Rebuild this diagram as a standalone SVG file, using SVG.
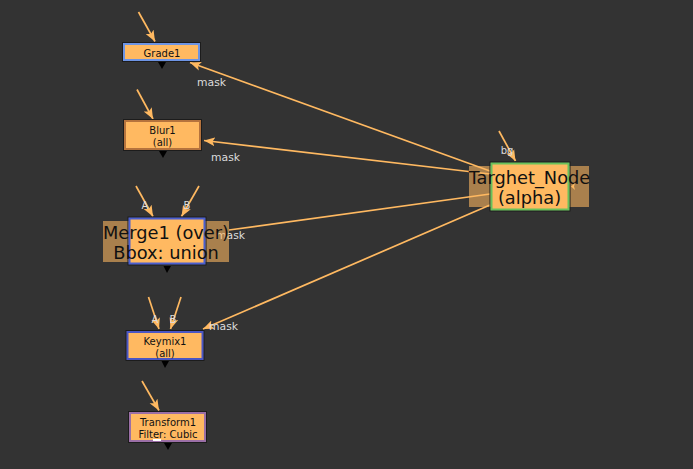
<svg xmlns="http://www.w3.org/2000/svg" width="693" height="469" viewBox="0 0 693 469">
<style>
.bg{fill:#333333}
.wire{stroke:#ffb961;stroke-width:1.7;fill:none;marker-end:url(#ah)}
.fill{fill:#ffb961}
.out{fill:none;stroke:#1c1c1c;stroke-width:1}
.t{font-family:"DejaVu Sans",sans-serif;fill:#111111;text-anchor:middle}
.s{font-size:10px}
.b{font-size:17.8px}
.lab{font-family:"DejaVu Sans",sans-serif;fill:#dcdcdc;font-size:10.8px}
.pin{font-family:"DejaVu Sans",sans-serif;fill:#dcdcdc;font-size:10px;text-anchor:middle}
.hl{fill:#ffb961;fill-opacity:0.58}
.tri{fill:#000}
</style>
<defs>
<marker id="ah" markerUnits="userSpaceOnUse" markerWidth="12" markerHeight="10" viewBox="0 0 12 10" refX="11" refY="5" orient="auto">
<path d="M0,0.5 L11,5 L0,9.5 L2.5,5 Z" fill="#ffb961"/>
</marker>
</defs>
<rect class="bg" x="0" y="0" width="693" height="469"/>

<g id="connectors">
<line class="wire" x1="138.5" y1="12" x2="155" y2="41.5"/>
<line class="wire" x1="137" y1="89.5" x2="153" y2="119"/>
<line class="wire" x1="136" y1="186" x2="153" y2="216.5"/>
<line class="wire" x1="199" y1="186" x2="181.5" y2="216.5"/>
<line class="wire" x1="148.5" y1="297" x2="159" y2="329"/>
<line class="wire" x1="181" y1="297" x2="170.5" y2="329"/>
<line class="wire" x1="142" y1="381" x2="159" y2="410.5"/>
<line class="wire" x1="499" y1="131" x2="515.5" y2="161"/>
<line class="wire" x1="490" y1="171" x2="190" y2="62.5"/>
<line class="wire" x1="490" y1="174" x2="204" y2="140.5"/>
<line x1="490" y1="194" x2="229" y2="230" stroke="#ffb961" stroke-width="1.7"/>
<line class="wire" x1="490" y1="205" x2="203" y2="329"/>
<text class="lab" x="197" y="85.5">mask</text>
<text class="lab" x="211" y="160.5">mask</text>
<text class="lab" x="216" y="238.5">mask</text>
<text class="lab" x="209" y="329.5">mask</text>
<text class="pin" x="145" y="209">A</text>
<text class="pin" x="187" y="209">B</text>
<text class="pin" x="155" y="322.5">A</text>
<text class="pin" x="173" y="322.5">B</text>
<text class="pin" x="507" y="153.5">bg</text>
</g>

<g id="Grade1">
<rect class="out" x="122.5" y="42.5" width="78" height="19"/>
<rect class="fill" x="124" y="44" width="75" height="16" stroke="#6d94e4" stroke-width="2"/>
<text class="t s" x="162" y="57">Grade1</text>
<polygon class="tri" points="158,62 166,62 162,69"/>
</g>

<g id="Blur1">
<rect class="out" x="123.5" y="119.5" width="78" height="31"/>
<rect class="fill" x="125" y="121" width="75" height="28" stroke="#b5733d" stroke-width="2"/>
<text class="t s" x="162.5" y="134">Blur1</text>
<text class="t s" x="162.5" y="145.5">(all)</text>
<polygon class="tri" points="159,151 167,151 163,158"/>
</g>

<g id="Merge1">
<rect class="hl" x="103" y="221" width="126" height="41"/>
<rect class="out" x="128" y="217" width="78" height="48"/>
<rect class="fill" x="129.5" y="218.5" width="75" height="45" stroke="#4b5fd0" stroke-width="2"/>
<text class="t b" x="166" y="238.5">Merge1 (over)</text>
<text class="t b" x="166" y="258.5">Bbox: union</text>
<polygon class="tri" points="163.5,266 171,266 167,273"/>
</g>

<g id="Keymix1">
<rect class="out" x="126" y="330.5" width="78" height="30"/>
<rect class="fill" x="127.5" y="332" width="75" height="27" stroke="#4a56c4" stroke-width="2"/>
<text class="t s" x="165" y="345">Keymix1</text>
<text class="t s" x="165" y="356.5">(all)</text>
<polygon class="tri" points="161.5,361 169,361 165,368"/>
</g>

<g id="Transform1">
<rect class="out" x="128.5" y="411.5" width="78" height="31"/>
<rect class="fill" x="130" y="413" width="75" height="28" stroke="#9b6fa6" stroke-width="2"/>
<text class="t s" x="168" y="426">Transform1</text>
<text class="t s" x="168" y="438">Filter: Cubic</text>
<rect x="153" y="439" width="8" height="2" fill="#ffffff"/>
<polygon class="tri" points="164,443 172,443 168,450"/>
</g>

<g id="Targhet_Node">
<rect class="hl" x="469" y="166" width="120" height="41"/>
<rect class="out" x="490" y="162" width="80" height="49"/>
<rect class="fill" x="491.5" y="163.5" width="77" height="46" stroke="#6ac25c" stroke-width="2"/>
<text class="t b" x="529.5" y="184">Targhet_Node</text>
<text class="t b" x="529.5" y="203.5">(alpha)</text>
<polygon points="571,186.5 575,183 574,186.5 575,190" fill="#ffb961"/>
</g>
</svg>
